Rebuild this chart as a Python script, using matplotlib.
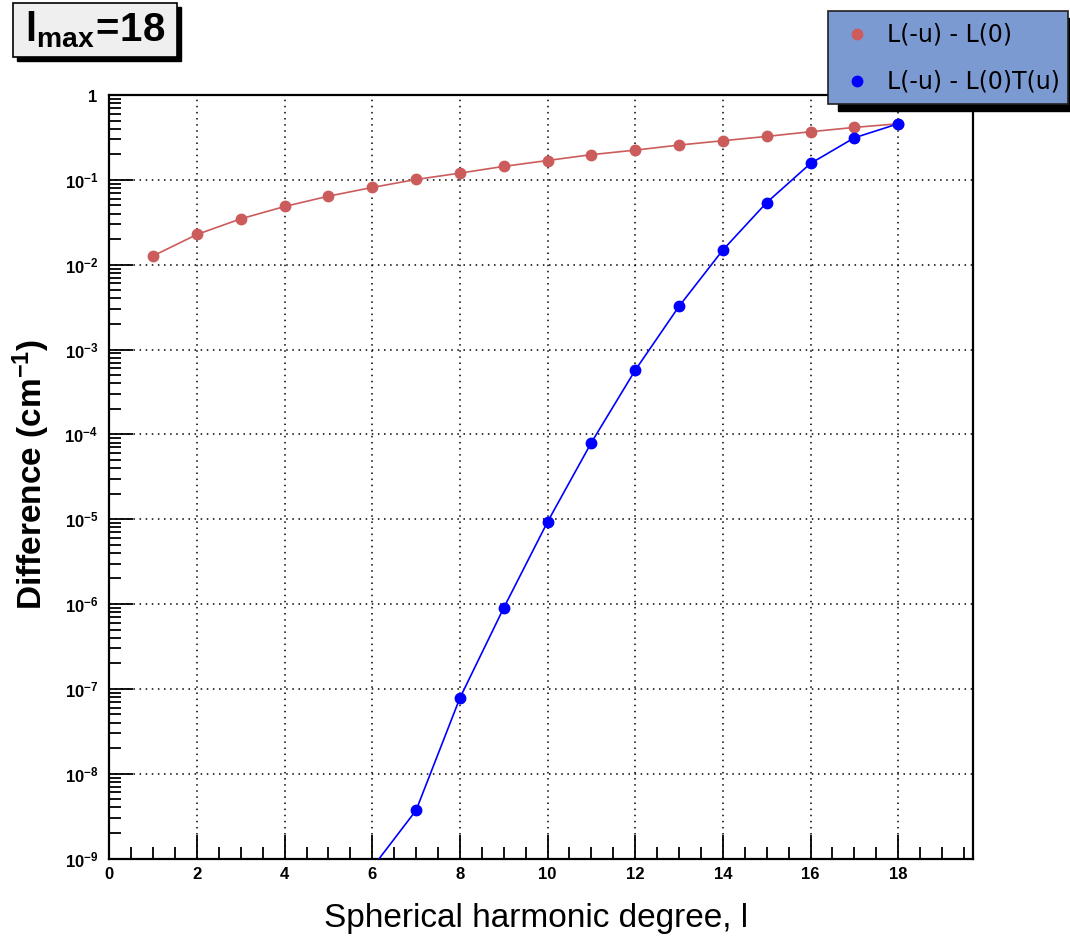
import numpy as np
import matplotlib
matplotlib.use("Agg")
import matplotlib.pyplot as plt
from matplotlib.patches import Rectangle
from matplotlib.lines import Line2D
from matplotlib.ticker import FixedLocator, MultipleLocator, NullFormatter, FuncFormatter

plt.rcParams['font.family'] = ['Liberation Sans', 'DejaVu Sans']
plt.rcParams['mathtext.fontset'] = 'custom'
plt.rcParams['mathtext.rm'] = 'Liberation Sans'
plt.rcParams['mathtext.bf'] = 'Liberation Sans:bold'
plt.rcParams['mathtext.it'] = 'Liberation Sans:italic'

# ---- data ----
degree = [1, 2, 3, 4, 5, 6, 7, 8, 9, 10, 11, 12, 13, 14, 15, 16, 17, 18]
diff_plain = [0.0127, 0.0227, 0.0347, 0.0485, 0.0642, 0.0813, 0.101, 0.120, 0.144,
              0.169, 0.198, 0.224, 0.257, 0.289, 0.325, 0.369, 0.415, 0.458]
degree_t = [6, 7, 8, 9, 10, 11, 12, 13, 14, 15, 16, 17, 18]
diff_t = [7.8e-10, 3.7e-9, 7.8e-8, 9.0e-7, 9.3e-6, 8.0e-5, 5.7e-4, 3.23e-3,
          0.0149, 0.054, 0.156, 0.313, 0.458]
label_plain = "L(-u) - L(0)"
label_t = "L(-u) - L(0)T(u)"
x_major = [0, 2, 4, 6, 8, 10, 12, 14, 16, 18]
y_exponents = [-9, -8, -7, -6, -5, -4, -3, -2, -1, 0]

RED = '#cc5c5c'
BLUE = '#0000ff'

W, H = 1070, 948
fig = plt.figure(figsize=(W / 100, H / 100), dpi=100)
fig.patch.set_facecolor('white')

def fx(px):
    return px / W

def fy(py):
    return 1 - py / H

L, R, T, B = 109.3, 972.7, 95.0, 858.5
ax = fig.add_axes([fx(L), fy(B), (R - L) / W, (B - T) / H])

ax.plot(degree, diff_plain, color=RED, lw=1.2, marker='o', ms=7.5, mec=RED, mfc=RED, zorder=3)
ax.plot(degree_t, diff_t, color=BLUE, lw=1.2, marker='o', ms=7.5, mec=BLUE, mfc=BLUE, zorder=4)

ax.set_yscale('log')
ax.set_xlim(0, 19.7)
ax.set_ylim(1e-9, 1)

y_major = [10.0 ** e for e in y_exponents]
y_minor = [m * 10.0 ** e for e in y_exponents[:-1] for m in range(2, 10)]

ax.xaxis.set_major_locator(FixedLocator(x_major))
ax.xaxis.set_minor_locator(MultipleLocator(0.5))
ax.xaxis.set_minor_formatter(NullFormatter())
ax.yaxis.set_major_locator(FixedLocator(y_major))
ax.yaxis.set_minor_locator(FixedLocator(y_minor))
ax.yaxis.set_minor_formatter(NullFormatter())

def yfmt(v, pos):
    e = int(round(np.log10(v)))
    if e == 0:
        return r'$\mathbf{1}$'
    return r'$\mathbf{10^{%d}}$' % e

ax.yaxis.set_major_formatter(FuncFormatter(yfmt))
ax.xaxis.set_major_formatter(FuncFormatter(lambda v, p: '%d' % v))

ax.tick_params(axis='both', which='major', direction='in', length=17, width=1.3,
               top=False, right=False)
ax.tick_params(axis='both', which='minor', direction='in', length=8.5, width=1.3,
               top=False, right=False)
ax.tick_params(axis='x', which='major', pad=6, labelsize=12)
ax.tick_params(axis='y', which='major', pad=8, labelsize=12)
for lab in ax.get_xticklabels():
    lab.set_fontweight('bold')

for s in ax.spines.values():
    s.set_linewidth(1.6)
    s.set_color('black')

ax.grid(True, which='major', color='black', linestyle=(0, (1, 3)), linewidth=1.1)
ax.set_axisbelow(True)

# axis titles
fig.text(fx(536), fy(918), "Spherical harmonic degree, l", fontsize=24,
         ha='center', va='center')
fig.text(fx(31), fy(474), r"Difference (cm$^{\mathbf{-1}}$)", fontsize=24,
         fontweight='bold', rotation=90, ha='center', va='center')

# title box
tb_l, tb_t, tb_r, tb_b = 12.7, 3.3, 177.0, 57.3
sh = 4
fig.add_artist(Rectangle((fx(tb_l + sh), fy(tb_b + sh)), (tb_r - tb_l) / W, (tb_b - tb_t) / H,
                         transform=fig.transFigure, facecolor='black', edgecolor='black', zorder=5))
fig.add_artist(Rectangle((fx(tb_l), fy(tb_b)), (tb_r - tb_l) / W, (tb_b - tb_t) / H,
                         transform=fig.transFigure, facecolor='#efefef', edgecolor='black',
                         lw=1.2, zorder=6))
fig.text(fx(95), fy(30), r"$\mathbf{l_{max}\!=\!18}$", fontsize=29, ha='center', va='center', zorder=7)

# legend box
lg_l, lg_t, lg_r, lg_b = 827.7, 10.7, 1068.0, 104.3
fig.add_artist(Rectangle((fx(lg_l + 10), fy(lg_b + 7)), (lg_r - lg_l) / W, (lg_b - lg_t) / H,
                         transform=fig.transFigure, facecolor='black', edgecolor='black', zorder=5))
fig.add_artist(Rectangle((fx(lg_l), fy(lg_b)), (lg_r - lg_l) / W, (lg_b - lg_t) / H,
                         transform=fig.transFigure, facecolor='#7c9ad2', edgecolor='#202020',
                         lw=1.2, zorder=6))
for yy, col, lab in [(34.3, RED, label_plain), (81.0, BLUE, label_t)]:
    fig.add_artist(Line2D([fx(857.3)], [fy(yy)], transform=fig.transFigure, marker='o',
                          ms=7.5, color=col, ls='none', zorder=7))
    fig.text(fx(887), fy(yy), lab, fontsize=17, family='DejaVu Sans',
             ha='left', va='center', zorder=7)

fig.savefig('out.png', dpi=100, facecolor='white')
